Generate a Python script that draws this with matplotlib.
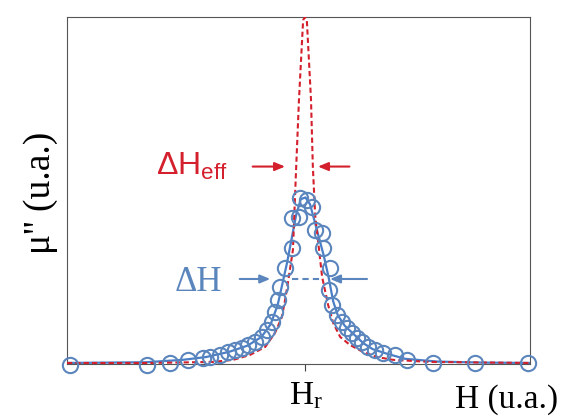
import matplotlib
matplotlib.use("Agg")
import matplotlib.pyplot as plt

# measured data (circles)
meas_x = [0.6, 17.3, 22.2, 26.1, 29.4, 30.9, 33.0, 34.8, 36.3, 37.8, 39.1, 40.6, 42.1, 43.2,
          44.3, 44.9, 45.6, 46.0, 47.1, 48.6, 48.6, 50.1, 50.3, 51.8, 52.9, 53.6, 55.1, 55.3,
          56.8, 56.6, 57.2, 58.3, 59.4, 60.5, 61.6, 62.6, 63.7, 65.0, 66.5, 68.3, 70.8, 73.4,
          79.0, 88.1, 99.6]
meas_y = [-0.3, -0.3, 0.3, 1.2, 1.7, 2.0, 2.6, 3.5, 4.0, 4.6, 5.5, 6.3, 7.8, 9.8,
          12.1, 15.0, 18.4, 22.2, 27.7, 33.4, 42.1, 42.4, 47.8, 47.3, 45.2, 38.6, 37.8, 33.4,
          27.7, 21.3, 17.0, 14.1, 12.1, 10.4, 8.9, 7.5, 6.3, 4.9, 4.0, 3.2, 2.6, 1.2,
          0.3, 0.3, 0.3]

# blue fit curve (solid)
fit_x = [0, 17, 25, 30, 35, 39, 42, 44, 45.5, 46.5, 47.5, 48.5, 49.5, 50.5, 51.5, 52.5,
         53.5, 54.5, 55.5, 56.5, 57.5, 58.5, 60, 62, 64, 66, 69, 73, 80, 90, 100]
fit_y = [0.3, 0.5, 1.2, 2.0, 3.5, 5.3, 7.8, 11.5, 17, 23, 29, 36, 43, 47.5, 48, 46,
         41, 36, 31, 25, 18, 14, 11, 8.5, 6, 4.3, 3, 1.5, 0.7, 0.4, 0.3]

# red effective curve (dashed)
eff_x = [0, 17.9, 31.5, 35.9, 39.5, 42.8, 44.9, 46.4, 47.1, 47.7, 48.8, 49.5, 50.1, 51.0,
         51.4, 51.8, 52.7, 53.1, 53.6, 55.1, 56.4, 57.5, 59.0, 61.1, 63.9, 67.0, 70.4, 78.4, 100]
eff_y = [0.3, 0.3, 0.6, 1.2, 2.6, 4.9, 8.9, 13.5, 18.4, 23.3, 32.9, 56.8, 76.1, 99.1,
         100, 99.1, 76.1, 56.8, 42.9, 25.1, 17.0, 11.8, 7.8, 5.5, 3.5, 2.0, 1.2, 0.6, 0.3]

Hr = 51.4
blue = "#5b86bd"
blue_line = "#4a7fc8"
red = "#d4202c"

fig = plt.figure(figsize=(5.65, 4.17), dpi=100)
ax = fig.add_axes([67 / 565, 53 / 417, 463 / 565, 347 / 417])

ax.plot(eff_x, eff_y, color=red, lw=1.5, ls=(0, (2.5, 1.5)), zorder=3)
ax.plot(fit_x, fit_y, color=blue_line, lw=1.6, zorder=2)
ax.plot(meas_x, meas_y, ls="none", marker="o", ms=11, mfc="none", mec=blue, mew=1.5,
        clip_on=False, zorder=4)

ax.set_xlim(0, 100)
ax.set_ylim(0, 100)
ax.set_xticks([Hr])
ax.set_xticklabels([])
ax.set_yticks([])
ax.tick_params(axis="x", direction="out", length=5, width=0.8, color="#444444")
for s in ax.spines.values():
    s.set_color("#555555")
    s.set_linewidth(0.8)

aprops = "-|>,head_length=0.6,head_width=0.25"

# Delta H_eff arrows
yeff = 56.9
ax.annotate("", xy=(47.7, yeff), xytext=(39.5, yeff),
            arrowprops=dict(arrowstyle=aprops, color=red, lw=1.5))
ax.annotate("", xy=(53.6, yeff), xytext=(61.6, yeff),
            arrowprops=dict(arrowstyle=aprops, color=red, lw=1.5))
ax.text(26.9, yeff, r"$\mathregular{\Delta H_{eff}}$", color=red, fontsize=23,
        family="Liberation Sans", ha="center", va="center")

# Delta H arrows
yh = 24.5
ax.annotate("", xy=(44.5, yh), xytext=(36.7, yh),
            arrowprops=dict(arrowstyle=aprops, color=blue, lw=1.5))
ax.annotate("", xy=(56.2, yh), xytext=(65.4, yh),
            arrowprops=dict(arrowstyle=aprops, color=blue, lw=1.5))
ax.plot([48.6, 54.6], [yh, yh], color=blue, lw=1.5, ls=(0, (3, 2)))
ax.text(28.4, 23.5, "ΔH", color=blue, fontsize=25, family="Liberation Serif",
        ha="center", va="center")

# labels
fig.text(40.5 / 565, 1 - 192.5 / 417, "μ'' (u.a.)", rotation=90, fontsize=27,
         family="Liberation Serif", ha="center", va="center")
fig.text(306 / 565, 1 - 396 / 417, r"$\mathregular{H_r}$", fontsize=24, family="Liberation Serif",
         ha="center", va="center")
fig.text(507 / 565, 1 - 400 / 417, "H (u.a.)", fontsize=24, family="Liberation Serif",
         ha="center", va="center")

fig.savefig("out.png", dpi=100)
